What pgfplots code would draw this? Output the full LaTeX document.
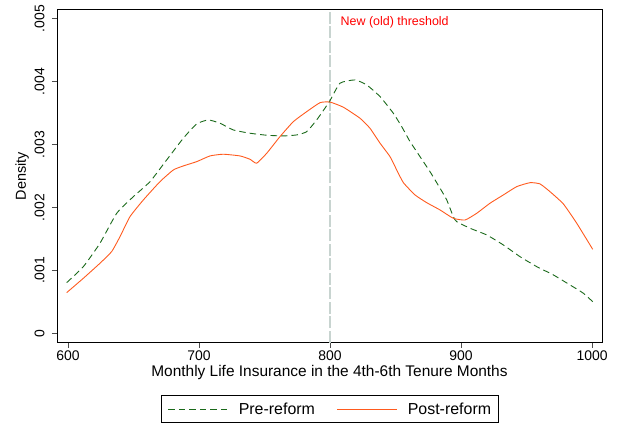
\documentclass[border=0pt]{standalone}
\usepackage{pgfplots}
\pgfplotsset{compat=1.18}
\usepackage{fontspec}
\setmainfont{Liberation Sans}
\definecolor{pregreen}{RGB}{26,105,26}
\definecolor{postorange}{RGB}{255,90,30}
\definecolor{threshgray}{RGB}{200,212,208}
\begin{document}
\begin{tikzpicture}
\begin{axis}[
  name=ax,
  width=545bp, height=333.4bp, scale only axis,
  xmin=591.6, xmax=1007.6,
  ymin=-0.00015, ymax=0.00515,
  xtick={600,700,800,900,1000},
  xticklabels={600,700,800,900,1000},
  ytick={0,0.001,0.002,0.003,0.004,0.005},
  yticklabels={0,.001,.002,.003,.004,.005},
  scaled y ticks=false,
  /pgf/number format/assume math mode=true,
  tick label style={font=\fontsize{14}{16}\selectfont},
  yticklabel style={rotate=90, anchor=south, yshift=4pt},
  xticklabel style={yshift=0pt},
  tick align=outside,
  tick pos=lower,
  major tick length=5bp,
  tick style={line width=0.6pt, color=black!70},
  axis line style={line width=0.7pt},
  xlabel={Monthly Life Insurance in the 4th-6th Tenure Months},
  ylabel={Density},
  xlabel style={font=\fontsize{15.5}{17}\selectfont, yshift=3pt},
  ylabel style={font=\fontsize{14.5}{16}\selectfont, yshift=-1pt},
  legend columns=2,
  legend style={at={(0.5,-0.1995)}, anchor=center, draw=black, line width=0.5pt,
    font=\fontsize{16}{18}\selectfont, inner xsep=7bp, inner ysep=7bp,
    nodes={inner sep=0pt},
    /tikz/every odd column/.append style={column sep=10bp},
    /tikz/every even column/.append style={column sep=22bp}},
  legend image code/.code={\draw[#1] (0bp,0bp) -- (60bp,0bp);},
  clip=false,
]
\addplot[draw=threshgray, line width=1.6pt, dash pattern=on 12bp off 2.5bp, forget plot] coordinates {(800,-0.00015) (800,0.00515)};
\addplot[pregreen, line width=0.9pt, dash pattern=on 6.5bp off 4bp, smooth, tension=0.3] coordinates {
(599,0.000805) (611.7,0.001059) (624.4,0.001431) (637.2,0.001908) (649.9,0.002172) (662.6,0.002410)
(675.3,0.002755) (688,0.003100) (698.2,0.003328) (707.1,0.003391) (716,0.003339) (726.2,0.003232)
(738.9,0.003180) (751.7,0.003148) (764.4,0.003137) (774.6,0.003153) (782.2,0.003205) (789.8,0.003391)
(799.5,0.003682) (807.6,0.003975) (819.1,0.004027) (828,0.003948) (838.2,0.003762) (848.3,0.003498)
(854.7,0.003285) (861.1,0.003046) (868.7,0.002808) (876.3,0.002569) (884,0.002305) (889.1,0.002119)
(894.1,0.001854) (896.7,0.001774) (906.9,0.001669) (919.6,0.001563) (932.3,0.001404) (945,0.001218)
(957.8,0.001059) (970.5,0.000927) (983.2,0.000768) (993.4,0.000636) (1000.5,0.000502)};
\addlegendentry{Pre-reform}
\addplot[postorange, line width=0.9pt, smooth, tension=0.3] coordinates {
(599,0.000646) (611.7,0.000874) (624.4,0.001113) (633.3,0.001298) (639.7,0.001536) (647.3,0.001854)
(657.5,0.002119) (670.2,0.002410) (680.4,0.002596) (688,0.002660) (698.2,0.002728) (708.4,0.002819)
(718.5,0.002846) (731.3,0.002819) (738.9,0.002766) (744,0.002703) (751.7,0.002862) (761.8,0.003126)
(772,0.003364) (782.2,0.003523) (792.4,0.003666) (800,0.003675) (810.2,0.003593) (822.9,0.003418)
(830.5,0.003259) (838.2,0.003021) (845.8,0.002808) (850.9,0.002596) (856,0.002394) (864.9,0.002199)
(873.8,0.002076) (884,0.001960) (894.1,0.001828) (903.1,0.001801) (912,0.001908) (922.1,0.002067)
(932.3,0.002199) (942.5,0.002331) (952.7,0.002394) (960.3,0.002374) (967.9,0.002251) (978.1,0.002056)
(988.3,0.001749) (1000.5,0.001335)};
\addlegendentry{Post-reform}
\node[anchor=west, text=red, font=\fontsize{12.5}{14}\selectfont, inner sep=0pt] at (axis cs:808,0.00495) {New (old) threshold};
\end{axis}
\pgfresetboundingbox
\path[use as bounding box] ([shift={(-57bp,-84.3bp)}]ax.south west) rectangle ([shift={(19bp,9.3bp)}]ax.north east);
\end{tikzpicture}
\end{document}
